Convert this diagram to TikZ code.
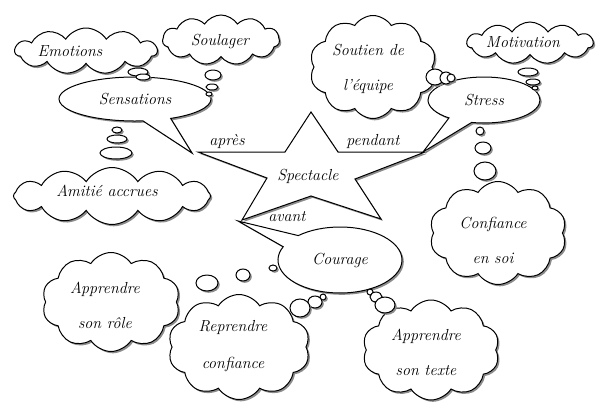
\documentclass[tikz,border=0pt]{standalone}
\usetikzlibrary{shapes.symbols,shapes.callouts,shapes.geometric,shadows}
\newcommand{\lblfont}{\fontsize{16}{18}\selectfont\itshape}
\begin{document}
\begin{tikzpicture}[x=1pt,y=-1pt,
  shad/.style={drop shadow={shadow xshift=1.8pt,shadow yshift=-1.8pt,fill=black!45,opacity=1}},
  cloudbox/.style={cloud, cloud puffs=11, cloud puff arc=115, cloud ignores aspect, draw, fill=white, line width=1pt, shad, inner sep=0pt},
  bubble/.style={ellipse, draw, fill=white, line width=1pt, shad, inner sep=0pt},
  callbox/.style={ellipse callout, draw, fill=white, line width=1pt, shad, inner sep=0pt, font=\lblfont},
  lbl/.style={font=\lblfont, align=center, inner sep=0pt},
  starline/.style={draw, fill=white, line width=1pt, shad, line join=miter}
]
\useasboundingbox[fill=white] (0,0) rectangle (600,408);

% clouds
\node[cloudbox, minimum width=142pt, minimum height=46pt] (cEmo) at (86,51) {};
\node[cloudbox, minimum width=117pt, minimum height=50pt] (cSoul) at (221,40) {};
\node[cloudbox, cloud puffs=10, minimum width=127pt, minimum height=103pt] (cSout) at (373,67) {};
\node[cloudbox, minimum width=126pt, minimum height=42pt] (cMot) at (530,43) {};
\node[cloudbox, cloud puffs=10, minimum width=137pt, minimum height=103pt] (cConf) at (498,233) {};
\node[cloudbox, cloud puffs=12, minimum width=197pt, minimum height=57pt] (cAmi) at (112,196) {};
\node[cloudbox, cloud puffs=10, minimum width=138pt, minimum height=99pt] (cRole) at (111,302) {};
\node[cloudbox, cloud puffs=10, minimum width=142pt, minimum height=105pt] (cRep) at (239,347) {};
\node[cloudbox, cloud puffs=10, minimum width=137pt, minimum height=100pt] (cTexte) at (431,350) {};

% callouts
\coordinate (pSens) at (192,153);
\coordinate (pStress) at (423,152);
\coordinate (pCour) at (238,221);
\node[callbox, minimum width=152pt, minimum height=44pt, callout absolute pointer={(pSens)}, callout pointer arc=22] (Sens) at (135,99) {Sensations};
\node[callbox, minimum width=112pt, minimum height=46pt, callout absolute pointer={(pStress)}, callout pointer arc=26] (Stress) at (484,100) {Stress};
\node[callbox, minimum width=124pt, minimum height=66pt, callout absolute pointer={(pCour)}, callout pointer arc=24] (Cour) at (340,260) {Courage};

% thought bubbles
\node[bubble, minimum width=20pt, minimum height=8pt] (b1) at (138,72) {};
\node[bubble, minimum width=14pt, minimum height=6pt] (b2) at (143,77) {};
\node[bubble, minimum width=16pt, minimum height=10pt] (b3) at (213,75) {};
\node[bubble, minimum width=12pt, minimum height=6pt] (b4) at (212,87) {};
\node[bubble, minimum width=6pt, minimum height=4pt] (b5) at (209,94) {};
\node[bubble, minimum width=10pt, minimum height=6pt] (b6) at (117,130) {};
\node[bubble, minimum width=20pt, minimum height=8pt] (b7) at (117,139) {};
\node[bubble, minimum width=32pt, minimum height=12pt] (b8) at (116,153) {};
\node[bubble, minimum width=18pt, minimum height=16pt] (b9) at (435,77) {};
\node[bubble, minimum width=12pt, minimum height=12pt] (b10) at (446,78) {};
\node[bubble, minimum width=8pt, minimum height=8pt] (b11) at (451,78) {};
\node[bubble, minimum width=20pt, minimum height=8pt] (b12) at (528,72) {};
\node[bubble, minimum width=14pt, minimum height=6pt] (b13) at (533,82) {};
\node[bubble, minimum width=6pt, minimum height=4pt] (b14) at (535,88) {};
\node[bubble, minimum width=8pt, minimum height=8pt] (b15) at (480,131) {};
\node[bubble, minimum width=16pt, minimum height=12pt] (b16) at (483,148) {};
\node[bubble, minimum width=22pt, minimum height=18pt] (b17) at (485,171) {};
\node[bubble, minimum width=8pt, minimum height=6pt] (b18) at (273,268) {};
\node[bubble, minimum width=14pt, minimum height=12pt] (b19) at (243,275) {};
\node[bubble, minimum width=22pt, minimum height=16pt] (b20) at (207,283) {};
\node[bubble, minimum width=6pt, minimum height=6pt] (b21) at (323,297) {};
\node[bubble, minimum width=14pt, minimum height=12pt] (b22) at (315,302) {};
\node[bubble, minimum width=20pt, minimum height=18pt] (b23) at (300,308) {};
\node[bubble, minimum width=6pt, minimum height=6pt] (b24) at (370,292) {};
\node[bubble, minimum width=12pt, minimum height=10pt] (b25) at (376,297) {};
\node[bubble, minimum width=20pt, minimum height=16pt] (b26) at (385,305) {};

% star
\filldraw[starline] (311,112) -- (338,152) -- (425,152) -- (355,179) -- (381,219)
  -- (311,196) -- (242,220) -- (267,178) -- (198,152) -- (285,152) -- cycle;
\node[lbl] (Spec) at (308,176) {Spectacle};

% cloud texts
\node[lbl] (tEmo) at (70,51) {Emotions};
\node[lbl] (tSoul) at (220,41) {Soulager};
\node[lbl] (tSout) at (368,69) {Soutien de\\[17pt]l'équipe};
\node[lbl] (tMot) at (523,42) {Motivation};
\node[lbl] (tConf) at (493,240) {Confiance\\[17pt]en soi};
\node[lbl] (tAmi) at (107,191) {Amitié accrues};
\node[lbl] (tRole) at (105,305) {Apprendre\\[17pt]son rôle};
\node[lbl] (tRep) at (233,346) {Reprendre\\[19pt]confiance};
\node[lbl] (tTexte) at (426,352) {Apprendre\\[17pt]son texte};

% link labels
\node[lbl] (lApres) at (227,141) {après};
\node[lbl] (lPend) at (373,141) {pendant};
\node[lbl] (lAvant) at (287,217) {avant};
\end{tikzpicture}
\end{document}
